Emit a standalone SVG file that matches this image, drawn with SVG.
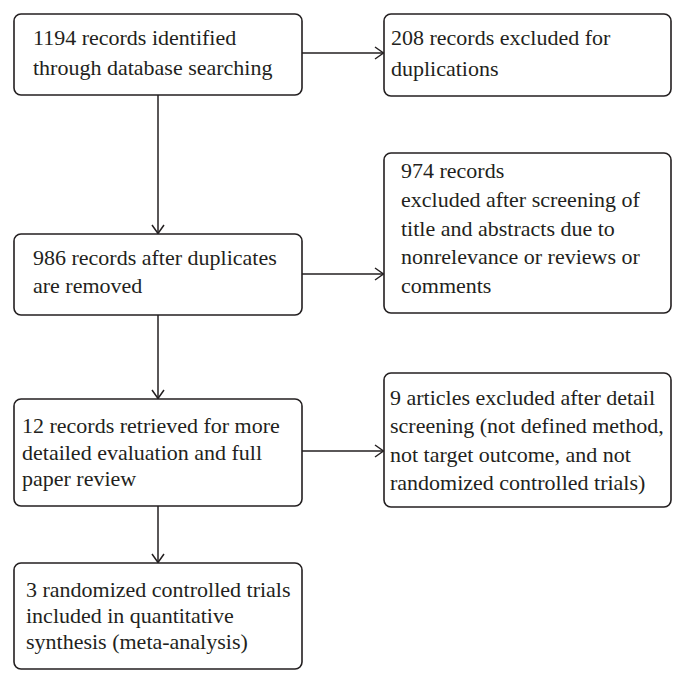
<svg xmlns="http://www.w3.org/2000/svg" width="686" height="685" viewBox="0 0 686 685">
<style>
.box{fill:#fff;stroke:#231f20;stroke-width:1.6}
.t{font-family:"Liberation Serif","Times New Roman",serif;font-size:22px;fill:#231f20}
.c{fill:none;stroke:#231f20;stroke-width:1.5}
</style>
<defs>
<marker id="ah" viewBox="0 0 10 14" refX="9.5" refY="7" markerWidth="10" markerHeight="14" markerUnits="userSpaceOnUse" orient="auto">
<path d="M1,1 L9.5,7 L1,13" fill="none" stroke="#231f20" stroke-width="1.5"/>
</marker>
</defs>
<rect width="686" height="685" fill="#fff"/>
<g id="connectors">
<line class="c" x1="158" y1="95" x2="158" y2="233.5" marker-end="url(#ah)"/>
<line class="c" x1="158" y1="315" x2="158" y2="398.5" marker-end="url(#ah)"/>
<line class="c" x1="158" y1="506" x2="158" y2="562.5" marker-end="url(#ah)"/>
<line class="c" x1="302" y1="53" x2="383.5" y2="53" marker-end="url(#ah)"/>
<line class="c" x1="302" y1="274" x2="383.5" y2="274" marker-end="url(#ah)"/>
<line class="c" x1="302" y1="451" x2="383.5" y2="451" marker-end="url(#ah)"/>
</g>
<g id="n1">
<rect class="box" x="14" y="14" width="288" height="81" rx="7"/>
<text class="t" x="33" y="45">1194 records identified</text>
<text class="t" x="33" y="75">through database searching</text>
</g>
<g id="n2">
<rect class="box" x="384" y="14" width="287" height="82" rx="7"/>
<text class="t" x="391" y="45">208 records excluded for</text>
<text class="t" x="391" y="76">duplications</text>
</g>
<g id="n3">
<rect class="box" x="384" y="153" width="287" height="160" rx="7"/>
<text class="t" x="401" y="178">974 records</text>
<text class="t" x="401" y="207">excluded after screening of</text>
<text class="t" x="401" y="236">title and abstracts due to</text>
<text class="t" x="401" y="264">nonrelevance or reviews or</text>
<text class="t" x="401" y="293">comments</text>
</g>
<g id="n4">
<rect class="box" x="14" y="234" width="288" height="81" rx="7"/>
<text class="t" x="33" y="265">986 records after duplicates</text>
<text class="t" x="33" y="293">are removed</text>
</g>
<g id="n5">
<rect class="box" x="14" y="399" width="288" height="107" rx="7"/>
<text class="t" x="22" y="433">12 records retrieved for more</text>
<text class="t" x="22" y="460">detailed evaluation and full</text>
<text class="t" x="22" y="486">paper review</text>
</g>
<g id="n6">
<rect class="box" x="384" y="373" width="287" height="134" rx="7"/>
<text class="t" x="390" y="405">9 articles excluded after detail</text>
<text class="t" x="390" y="433">screening (not defined method,</text>
<text class="t" x="390" y="462">not target outcome, and not</text>
<text class="t" x="390" y="490">randomized controlled trials)</text>
</g>
<g id="n7">
<rect class="box" x="14" y="563" width="288" height="106" rx="7"/>
<text class="t" x="26" y="597">3 randomized controlled trials</text>
<text class="t" x="26" y="623">included in quantitative</text>
<text class="t" x="26" y="649">synthesis (meta-analysis)</text>
</g>
</svg>
